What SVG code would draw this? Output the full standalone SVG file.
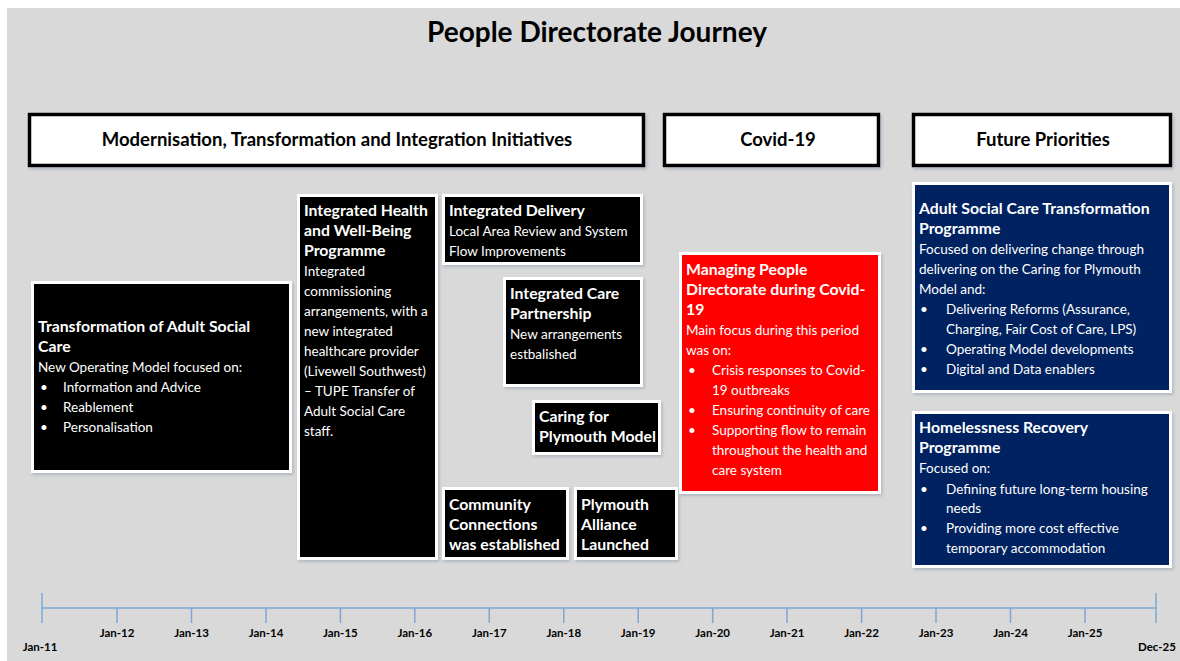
<svg xmlns="http://www.w3.org/2000/svg" width="1180" height="661" viewBox="0 0 1180 661">
<defs>
<style>
text{font-family:Lato,"Open Sans","Liberation Sans",sans-serif;}
.t{font-size:13.5px;fill:#fff;}
.b{font-weight:bold;font-size:15.8px;}
.hd{font-size:18.5px;font-weight:bold;fill:#000;text-anchor:middle;}
.hb{fill:#fff;stroke:#000;stroke-width:3.5;}
.nb{stroke:#fff;stroke-width:3;}
.blk{fill:#000;}
.red{fill:#ff0000;}
.navy{fill:#002060;}
.ax{stroke:#7ea6d8;stroke-width:1.5;fill:none;}
.lb{font-size:11.5px;font-weight:bold;fill:#000;text-anchor:middle;}
</style>
<filter id="sh" x="-10%" y="-10%" width="130%" height="130%">
<feDropShadow dx="1.5" dy="2" stdDeviation="1.5" flood-color="#7f8fa6" flood-opacity="0.45"/>
</filter>
</defs>
<rect x="7" y="8" width="1173" height="653" fill="#d9d9d9"/>
<text x="597" y="42" font-size="28" font-weight="bold" text-anchor="middle" fill="#000">People Directorate Journey</text>

<g id="header-modernisation">
<rect class="hb" x="29.5" y="114.5" width="614" height="51" filter="url(#sh)"/>
<text class="hd" x="337" y="146">Modernisation, Transformation and Integration Initiatives</text>
</g>
<g id="header-covid">
<rect class="hb" x="664.5" y="114.5" width="214" height="51" filter="url(#sh)"/>
<text class="hd" x="778" y="146">Covid-19</text>
</g>
<g id="header-future">
<rect class="hb" x="913.5" y="114.5" width="257" height="51" filter="url(#sh)"/>
<text class="hd" x="1043" y="146">Future Priorities</text>
</g>

<g id="node-transformation-asc">
<rect class="nb blk" x="32.5" y="282.5" width="258" height="189" filter="url(#sh)"/>
<text class="t b" x="38" y="332">Transformation of Adult Social</text>
<text class="t b" x="38" y="352">Care</text>
<text class="t" x="38" y="372">New Operating Model focused on:</text>
<text class="t" x="40" y="392">•</text><text class="t" x="63" y="392">Information and Advice</text>
<text class="t" x="40" y="412">•</text><text class="t" x="63" y="412">Reablement</text>
<text class="t" x="40" y="432">•</text><text class="t" x="63" y="432">Personalisation</text>
</g>

<g id="node-integrated-health">
<rect class="nb blk" x="298.5" y="195.5" width="138" height="363" filter="url(#sh)"/>
<text class="t b" x="304" y="216">Integrated Health</text>
<text class="t b" x="304" y="236">and Well-Being</text>
<text class="t b" x="304" y="256">Programme</text>
<text class="t" x="304" y="276">Integrated</text>
<text class="t" x="304" y="296">commissioning</text>
<text class="t" x="304" y="316">arrangements, with a</text>
<text class="t" x="304" y="336">new integrated</text>
<text class="t" x="304" y="356">healthcare provider</text>
<text class="t" x="304" y="376">(Livewell Southwest)</text>
<text class="t" x="304" y="396">– TUPE Transfer of</text>
<text class="t" x="304" y="416">Adult Social Care</text>
<text class="t" x="304" y="436">staff.</text>
</g>

<g id="node-integrated-delivery">
<rect class="nb blk" x="443.5" y="195.5" width="198" height="68" filter="url(#sh)"/>
<text class="t b" x="449" y="216">Integrated Delivery</text>
<text class="t" x="449" y="236">Local Area Review and System</text>
<text class="t" x="449" y="256">Flow Improvements</text>
</g>

<g id="node-integrated-care-partnership">
<rect class="nb blk" x="504.5" y="278.5" width="137" height="107" filter="url(#sh)"/>
<text class="t b" x="510" y="299">Integrated Care</text>
<text class="t b" x="510" y="319">Partnership</text>
<text class="t" x="510" y="339">New arrangements</text>
<text class="t" x="510" y="359">estbalished</text>
</g>

<g id="node-caring-for-plymouth">
<rect class="nb blk" x="533.5" y="401.5" width="126" height="52" filter="url(#sh)"/>
<text class="t b" x="539" y="422">Caring for</text>
<text class="t b" x="539" y="442">Plymouth Model</text>
</g>

<g id="node-community-connections">
<rect class="nb blk" x="443.5" y="488.5" width="124" height="70" filter="url(#sh)"/>
<text class="t b" x="449" y="510">Community</text>
<text class="t b" x="449" y="530">Connections</text>
<text class="t b" x="449" y="550">was established</text>
</g>

<g id="node-plymouth-alliance">
<rect class="nb blk" x="575.5" y="488.5" width="101" height="70" filter="url(#sh)"/>
<text class="t b" x="581" y="510">Plymouth</text>
<text class="t b" x="581" y="530">Alliance</text>
<text class="t b" x="581" y="550">Launched</text>
</g>

<g id="node-managing-covid">
<rect class="nb red" x="680.5" y="253.5" width="199" height="239" filter="url(#sh)"/>
<text class="t b" x="686" y="275">Managing People</text>
<text class="t b" x="686" y="295">Directorate during Covid-</text>
<text class="t b" x="686" y="315">19</text>
<text class="t" x="686" y="335">Main focus during this period</text>
<text class="t" x="686" y="355">was on:</text>
<text class="t" x="688" y="375">•</text><text class="t" x="712" y="375">Crisis responses to Covid-</text>
<text class="t" x="712" y="395">19 outbreaks</text>
<text class="t" x="688" y="415">•</text><text class="t" x="712" y="415">Ensuring continuity of care</text>
<text class="t" x="688" y="435">•</text><text class="t" x="712" y="435">Supporting flow to remain</text>
<text class="t" x="712" y="455">throughout the health and</text>
<text class="t" x="712" y="475">care system</text>
</g>

<g id="node-asc-transformation">
<rect class="nb navy" x="913.5" y="183.5" width="257" height="208" filter="url(#sh)"/>
<text class="t b" x="919" y="214">Adult Social Care Transformation</text>
<text class="t b" x="919" y="234">Programme</text>
<text class="t" x="919" y="254">Focused on delivering change through</text>
<text class="t" x="919" y="274">delivering on the Caring for Plymouth</text>
<text class="t" x="919" y="294">Model and:</text>
<text class="t" x="920" y="314">•</text><text class="t" x="946" y="314">Delivering Reforms (Assurance,</text>
<text class="t" x="946" y="334">Charging, Fair Cost of Care, LPS)</text>
<text class="t" x="920" y="354">•</text><text class="t" x="946" y="354">Operating Model developments</text>
<text class="t" x="920" y="374">•</text><text class="t" x="946" y="374">Digital and Data enablers</text>
</g>

<g id="node-homelessness">
<rect class="nb navy" x="913.5" y="412.5" width="257" height="154" filter="url(#sh)"/>
<text class="t b" x="919" y="433">Homelessness Recovery</text>
<text class="t b" x="919" y="453">Programme</text>
<text class="t" x="919" y="473">Focused on:</text>
<text class="t" x="920" y="494">•</text><text class="t" x="946" y="494">Defining future long-term housing</text>
<text class="t" x="946" y="513">needs</text>
<text class="t" x="920" y="533">•</text><text class="t" x="946" y="533">Providing more cost effective</text>
<text class="t" x="946" y="553">temporary accommodation</text>
</g>

<g id="connectors">
<path class="ax" d="M42 608H1156M42 593V623M1156 593V623M117 608V623M191.5 608V623M266 608V623M340.4 608V623M414.8 608V623M489.3 608V623M563.8 608V623M638.2 608V623M712.7 608V623M787 608V623M861.6 608V623M936 608V623M1010.5 608V623M1085 608V623"/>
</g>
<g id="axis-labels">
<text class="lb" x="40" y="651">Jan-11</text>
<text class="lb" x="117" y="637">Jan-12</text>
<text class="lb" x="191.5" y="637">Jan-13</text>
<text class="lb" x="266" y="637">Jan-14</text>
<text class="lb" x="340.4" y="637">Jan-15</text>
<text class="lb" x="414.8" y="637">Jan-16</text>
<text class="lb" x="489.3" y="637">Jan-17</text>
<text class="lb" x="563.8" y="637">Jan-18</text>
<text class="lb" x="638.2" y="637">Jan-19</text>
<text class="lb" x="712.7" y="637">Jan-20</text>
<text class="lb" x="787" y="637">Jan-21</text>
<text class="lb" x="861.6" y="637">Jan-22</text>
<text class="lb" x="936" y="637">Jan-23</text>
<text class="lb" x="1010.5" y="637">Jan-24</text>
<text class="lb" x="1085" y="637">Jan-25</text>
<text class="lb" x="1157" y="651">Dec-25</text>
</g>
</svg>
